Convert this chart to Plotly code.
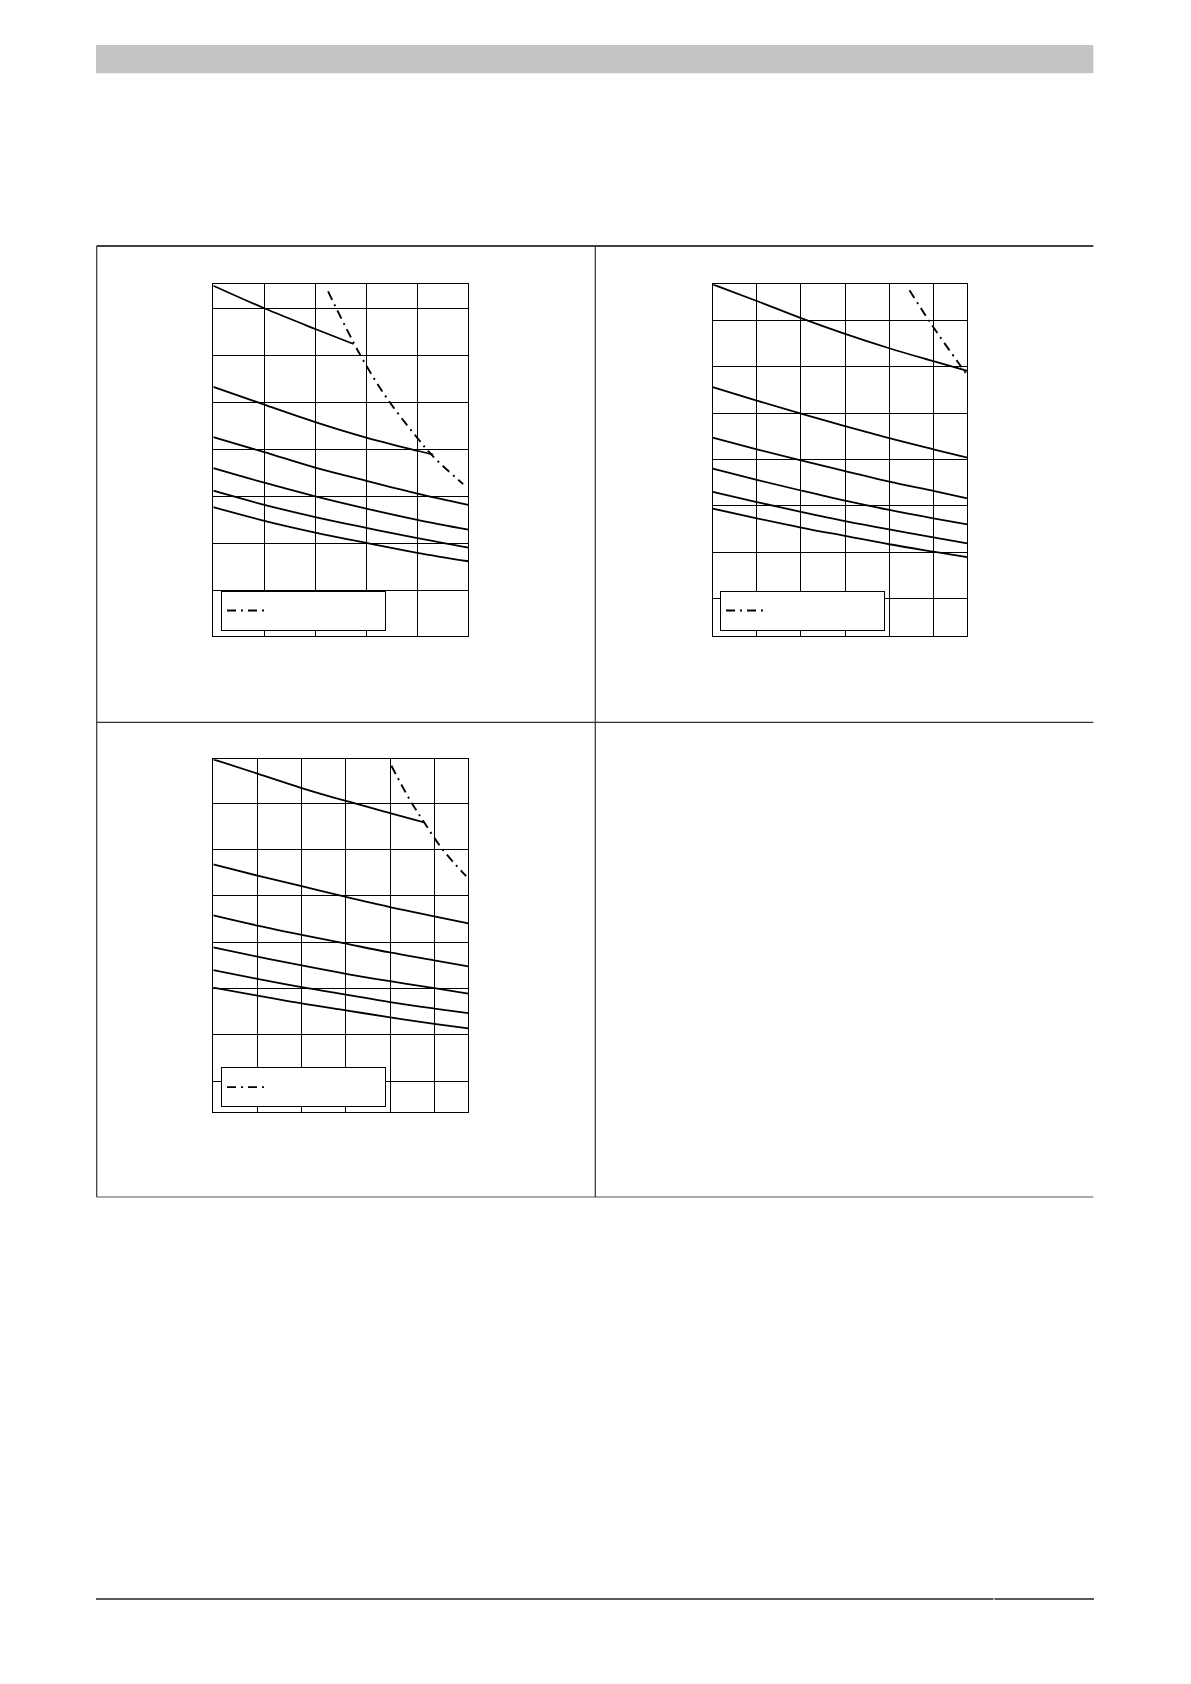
import plotly.graph_objects as go

W = 1191
H = 1684

# --- chart 1 (top left) ---
c1_x = [0, 1, 2, 3, 4, 5]
c1_top_x = [0, 1, 2, 2.75]
c1_top = [7.48, 7.0, 6.56, 6.24]
c1_second_x = [0, 1, 2, 3, 4, 4.31]
c1_second = [5.33, 4.95, 4.58, 4.25, 3.97, 3.89]
c1_third = [4.26, 3.94, 3.61, 3.33, 3.06, 2.82]
c1_fourth = [3.60, 3.29, 3.00, 2.74, 2.50, 2.29]
c1_fifth = [3.12, 2.82, 2.56, 2.33, 2.11, 1.91]
c1_sixth = [2.77, 2.48, 2.23, 2.01, 1.80, 1.62]
c1_limit_x = [2.25, 2.89, 3.39, 3.95, 4.31, 4.90]
c1_limit = [7.36, 5.99, 5.11, 4.31, 3.85, 3.26]

# --- chart 2 (top right) ---
c2_x = [0, 1, 2, 3, 4, 5, 5.77]
c2_top = [7.78, 7.42, 7.05, 6.71, 6.40, 6.12, 5.91]
c2_second = [5.56, 5.27, 4.99, 4.72, 4.46, 4.22, 4.04]
c2_third = [4.47, 4.22, 3.98, 3.75, 3.52, 3.32, 3.16]
c2_fourth = [3.80, 3.56, 3.33, 3.11, 2.91, 2.73, 2.60]
c2_fifth = [3.30, 3.08, 2.87, 2.67, 2.49, 2.32, 2.19]
c2_sixth = [2.94, 2.73, 2.53, 2.35, 2.17, 2.01, 1.89]
c2_limit_x = [4.46, 4.94, 5.55, 5.77]
c2_limit = [7.65, 6.94, 6.11, 5.82]

# --- chart 3 (bottom left) ---
c3_x = [0, 1, 2, 3, 4, 5, 5.77]
c3_top_x = [0, 1, 2, 3, 4, 4.77]
c3_top = [7.95, 7.64, 7.33, 7.05, 6.79, 6.59]
c3_second = [5.68, 5.44, 5.21, 4.98, 4.76, 4.56, 4.41]
c3_third = [4.58, 4.36, 4.16, 3.97, 3.78, 3.61, 3.48]
c3_fourth = [3.89, 3.69, 3.50, 3.32, 3.16, 3.01, 2.89]
c3_fifth = [3.40, 3.21, 3.03, 2.87, 2.71, 2.57, 2.47]
c3_sixth = [3.02, 2.85, 2.68, 2.53, 2.38, 2.24, 2.14]
c3_limit_x = [4.03, 4.45, 4.77, 5.20, 5.72]
c3_limit = [7.81, 7.07, 6.59, 5.99, 5.43]

DASHDOT = "9px,5px,2px,5px"


def px(x):
    return x / W


def py(y):
    return 1 - y / H


def curve(x, y, xa, ya):
    return go.Scatter(x=x, y=y, mode="lines", xaxis=xa, yaxis=ya, showlegend=False,
                      line=dict(color="black", width=1.8, shape="spline", smoothing=1.0),
                      hoverinfo="skip")


def limit(x, y, xa, ya, leg):
    return go.Scatter(x=x, y=y, mode="lines", xaxis=xa, yaxis=ya, name="", legend=leg,
                      showlegend=True,
                      line=dict(color="black", width=1.9, dash=DASHDOT, shape="spline", smoothing=1.0),
                      hoverinfo="skip")


fig = go.Figure()

fig.add_trace(curve(c1_top_x, c1_top, "x", "y"))
fig.add_trace(curve(c1_second_x, c1_second, "x", "y"))
for ys in (c1_third, c1_fourth, c1_fifth, c1_sixth):
    fig.add_trace(curve(c1_x, ys, "x", "y"))
fig.add_trace(limit(c1_limit_x, c1_limit, "x", "y", "legend"))

for ys in (c2_top, c2_second, c2_third, c2_fourth, c2_fifth, c2_sixth):
    fig.add_trace(curve(c2_x, ys, "x2", "y2"))
fig.add_trace(limit(c2_limit_x, c2_limit, "x2", "y2", "legend2"))

fig.add_trace(curve(c3_top_x, c3_top, "x3", "y3"))
for ys in (c3_second, c3_third, c3_fourth, c3_fifth, c3_sixth):
    fig.add_trace(curve(c3_x, ys, "x3", "y3"))
fig.add_trace(limit(c3_limit_x, c3_limit, "x3", "y3", "legend3"))


def axis(domain, rng, anchor):
    return dict(domain=domain, range=rng, anchor=anchor, tick0=0, dtick=1,
                showgrid=True, gridcolor="black", gridwidth=1, zeroline=False,
                showline=True, linecolor="black", linewidth=1.2, mirror=True,
                showticklabels=False, ticks="", fixedrange=True)


def legend(x, y):
    return dict(x=px(x), y=py(y), xanchor="left", yanchor="top", orientation="h",
                bgcolor="white", bordercolor="black", borderwidth=1,
                entrywidth=108, itemwidth=40, font=dict(size=19, color="black"))


fig.update_layout(
    width=W, height=H,
    margin=dict(l=0, r=0, t=0, b=0),
    paper_bgcolor="white", plot_bgcolor="white",
    xaxis=axis([px(213.3), px(468.3)], [0, 5], "y"),
    yaxis=axis([py(636), py(284.3)], [0.03, 7.51], "x"),
    xaxis2=axis([px(712.7), px(967.3)], [0, 5.77], "y2"),
    yaxis2=axis([py(636), py(284.3)], [0.19, 7.78], "x2"),
    xaxis3=axis([px(213.3), px(468.3)], [0, 5.77], "y3"),
    yaxis3=axis([py(1112.3), py(759.3)], [0.33, 7.95], "x3"),
    legend=legend(221, 590.7),
    legend2=legend(720, 590.7),
    legend3=legend(221, 1067.3),
)

# page furniture: header bar, table frame, footer rule
shapes = [
    dict(type="rect", x0=px(96), x1=px(1093.3), y0=py(45), y1=py(73.3),
         fillcolor="#c4c4c4", line=dict(width=0), layer="below"),
    dict(type="line", x0=px(96.7), x1=px(1093.3), y0=py(246), y1=py(246),
         line=dict(color="black", width=1.3)),
    dict(type="line", x0=px(96.7), x1=px(1093.3), y0=py(722.3), y1=py(722.3),
         line=dict(color="#333333", width=1.2)),
    dict(type="line", x0=px(96.7), x1=px(1093.3), y0=py(1197), y1=py(1197),
         line=dict(color="#555555", width=1.2)),
    dict(type="line", x0=px(96.7), x1=px(96.7), y0=py(246), y1=py(1197),
         line=dict(color="#333333", width=1.2)),
    dict(type="line", x0=px(595.3), x1=px(595.3), y0=py(246), y1=py(1197),
         line=dict(color="#333333", width=1.2)),
    dict(type="line", x0=px(96), x1=px(993.5), y0=py(1599), y1=py(1599),
         line=dict(color="#222222", width=1.6)),
    dict(type="line", x0=px(994.5), x1=px(1094), y0=py(1599), y1=py(1599),
         line=dict(color="#222222", width=1.6)),
]
for s in shapes:
    s["xref"] = "paper"
    s["yref"] = "paper"
fig.update_layout(shapes=shapes)

fig.write_html("out.html", config={"displayModeBar": False},
               post_script="document.body.style.margin='0';")
